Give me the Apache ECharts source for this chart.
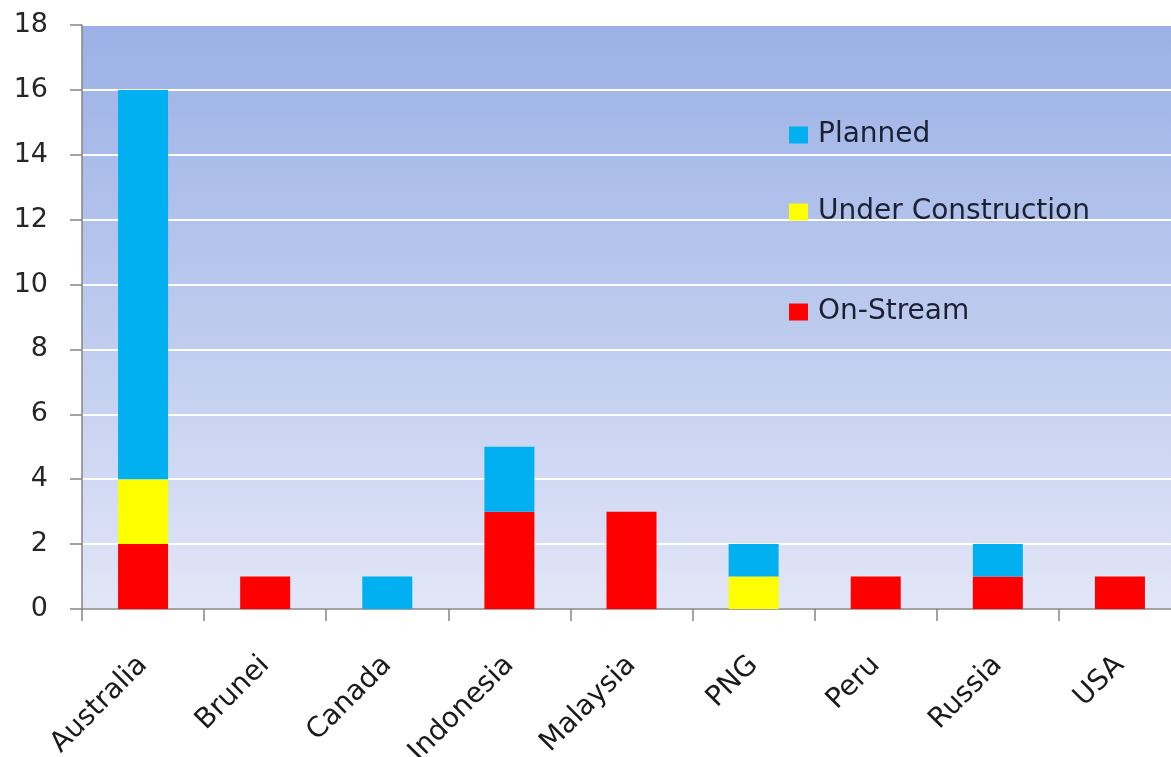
<!DOCTYPE html>
<html>
<head>
<meta charset="utf-8">
<script src="https://cdn.jsdelivr.net/npm/echarts@6/dist/echarts.min.js"></script>
<style>
html,body{margin:0;padding:0;background:#fff;overflow:hidden;}
#chart{width:1171px;height:757px;}
</style>
</head>
<body>
<div id="chart"></div>
<script>
const categories = ['Australia','Brunei','Canada','Indonesia','Malaysia','PNG','Peru','Russia','USA'];
const onStream = [2,1,0,3,3,0,1,1,1];
const underConstruction = [2,0,0,0,0,1,0,0,0];
const planned = [12,0,1,2,0,1,0,1,0];
const yTicks = {min:0, max:18, interval:2};

const chart = echarts.init(document.getElementById('chart'));
const font = "'DejaVu Sans', sans-serif";
const legendBase = {
  orient:'vertical', left:789, padding:0, itemWidth:19, itemHeight:17, itemGap:0,
  icon:'rect', textStyle:{fontFamily:font, fontSize:28, color:'#1c2033', padding:[0,0,0,5]}
};
chart.setOption({
  animation:false,
  legend:[
    Object.assign({}, legendBase, {top:121, data:['Planned']}),
    Object.assign({}, legendBase, {top:198, data:['Under Construction']}),
    Object.assign({}, legendBase, {top:298, data:['On-Stream']})
  ],
  grid:{left:82, right:-10, top:25, bottom:148, outerBoundsMode:'none', containLabel:false,
    show:true, borderWidth:0,
    backgroundColor:{type:'linear', x:0, y:0, x2:0, y2:1,
      colorStops:[{offset:0,color:'#9bb1e6'},{offset:0.5,color:'#bccaee'},{offset:1,color:'#e2e6f7'}]}},
  xAxis:{type:'category', data:categories,
    axisLine:{lineStyle:{color:'#858585', width:1.5}},
    axisTick:{show:true, length:12, alignWithLabel:false, lineStyle:{color:'#858585', width:1.5}},
    axisLabel:{rotate:45, fontFamily:font, fontSize:28, color:'#1a1a1a', margin:32, interval:0,
      verticalAlign:'top', align:'right', padding:[0,14,0,0]}},
  yAxis:{type:'value', min:yTicks.min, max:yTicks.max, interval:yTicks.interval,
    axisLine:{show:true, lineStyle:{color:'#858585', width:1.5}},
    axisTick:{show:true, length:12, lineStyle:{color:'#858585', width:1.5}},
    axisLabel:{fontFamily:font, fontSize:27, color:'#262626', margin:34},
    splitLine:{lineStyle:{color:'#ffffff', width:2}}},
  series:[
    {name:'On-Stream', type:'bar', stack:'a', data:onStream, barWidth:50, itemStyle:{color:'#ff0000'}},
    {name:'Under Construction', type:'bar', stack:'a', data:underConstruction, barWidth:50, itemStyle:{color:'#ffff00'}},
    {name:'Planned', type:'bar', stack:'a', data:planned, barWidth:50, itemStyle:{color:'#00b0f0'}}
  ]
});
</script>
</body>
</html>
